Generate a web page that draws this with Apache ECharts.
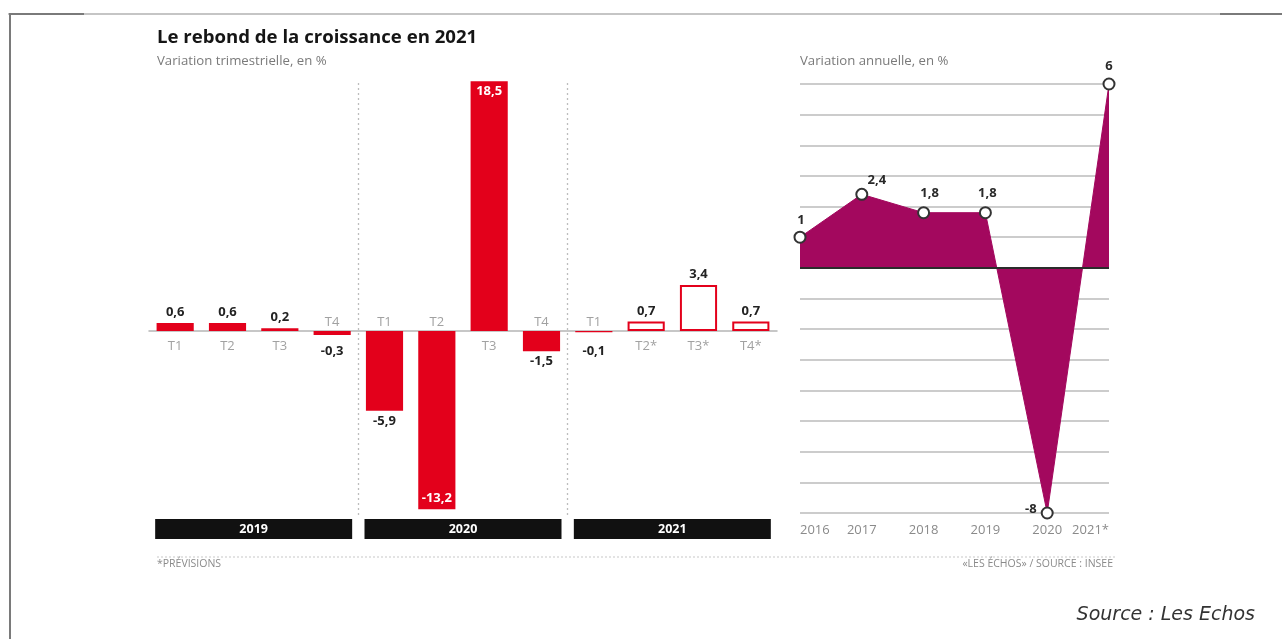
<!DOCTYPE html>
<html lang="fr">
<head>
<meta charset="utf-8">
<title>Le rebond de la croissance en 2021</title>
<script src="https://cdn.jsdelivr.net/npm/echarts@6/dist/echarts.min.js"></script>
<style>
  html, body { margin: 0; padding: 0; background: #fff; }
  #chart { width: 1282px; height: 639px; }
</style>
</head>
<body>
<div id="chart"></div>
<script>
// Quarterly GDP growth (%), 2019 to 2021
const quarterLabels = ['T1', 'T2', 'T3', 'T4', 'T1', 'T2', 'T3', 'T4', 'T1', 'T2*', 'T3*', 'T4*'];
const quarterValues = [0.6, 0.6, 0.2, -0.3, -5.9, -13.2, 18.5, -1.5, -0.1, 0.7, 3.4, 0.7];
const quarterForecast = [false, false, false, false, false, false, false, false, false, true, true, true];
const yearBands = ['2019', '2020', '2021'];
// Positions (in quarters) where one year ends and the next begins
const yearBreaks = [4, 8];

// Annual GDP growth (%)
const annualYears = ['2016', '2017', '2018', '2019', '2020', '2021*'];
const annualValues = [1, 2.4, 1.8, 1.8, -8, 6];

const RED = '#E3001B';
const PLUM = '#A3085E';
const FONT = '"Open Sans", Roboto, sans-serif';

const fmt = v => String(v).replace('.', ',');

// Bars: solid for observed quarters, outlined for forecasts
const barData = quarterValues.map((v, i) => {
  const big = Math.abs(v) > 10;
  let label;
  if (big) {
    label = { position: v > 0 ? 'insideTop' : 'insideBottom', distance: 4, color: '#fff' };
  } else if (v >= 0) {
    label = { position: 'top', distance: 4 };
  } else {
    const px = Math.abs(v) * 13.5;
    label = { position: 'bottom', distance: Math.max(4, 14 - px) };
  }
  return {
    value: v,
    itemStyle: quarterForecast[i]
      ? { color: '#fff', borderColor: RED, borderWidth: 2 }
      : { color: RED },
    label: label
  };
});

// Quarter names sit on the opposite side of the baseline from each bar
const quarterNameData = quarterValues.map((v, i) => ({
  value: [i, 0],
  label: v >= 0 ? { position: 'bottom', distance: 9 } : { position: 'top', distance: 2 }
}));

// Point labels of the annual series
const annualLabelPlacement = [
  { position: 'top', distance: 4, offset: [1, 0] },
  { position: 'top', distance: 6, offset: [15, 5] },
  { position: 'top', distance: 6, offset: [6, 0] },
  { position: 'top', distance: 6, offset: [2, 0] },
  { position: 'left', distance: 4, offset: [0, -4] },
  { position: 'top', distance: 5, offset: [0, 0] }
];
const annualData = annualValues.map((v, i) => ({ value: v, label: annualLabelPlacement[i] }));

const option = {
  animation: false,
  backgroundColor: '#fff',
  textStyle: { fontFamily: FONT },
  title: [
    {
      text: 'Le rebond de la croissance en 2021',
      left: 152, top: 23,
      textStyle: { fontSize: 18.6, fontWeight: 'bold', color: '#151515', fontFamily: FONT }
    },
    {
      text: 'Variation trimestrielle, en %',
      left: 152, top: 50,
      textStyle: { fontSize: 13.2, fontWeight: 'normal', color: '#7a7a7a', fontFamily: FONT }
    },
    {
      text: 'Variation annuelle, en %',
      left: 795, top: 50,
      textStyle: { fontSize: 13.2, fontWeight: 'normal', color: '#7a7a7a', fontFamily: FONT }
    }
  ],
  grid: [
    { left: 149, right: 505, top: 80, bottom: 124 },
    { left: 800, right: 173, top: 84, bottom: 126 }
  ],
  xAxis: [
    {
      gridIndex: 0, type: 'category', data: quarterLabels,
      axisLine: { onZero: true, lineStyle: { color: '#b5b5b5', width: 1.5 } },
      axisTick: { show: false },
      axisLabel: { show: false },
      splitLine: { show: false }
    },
    {
      gridIndex: 0, type: 'category', data: yearBands, position: 'bottom',
      axisLine: { show: false }, axisTick: { show: false },
      axisLabel: {
        margin: 4, color: '#fff', backgroundColor: '#111', width: 197, height: 20,
        lineHeight: 20, align: 'center', fontSize: 12.5, fontWeight: 'bold', fontFamily: FONT
      }
    },
    {
      gridIndex: 1, type: 'category', data: annualYears, boundaryGap: false,
      axisLine: { show: false }, axisTick: { show: false },
      axisLabel: {
        margin: 11, color: '#8a8a8a', fontSize: 13, fontFamily: FONT,
        alignMinLabel: 'left', alignMaxLabel: 'right'
      },
      splitLine: { show: false }
    },
    {
      // continuous quarter scale used to place the year separators
      gridIndex: 0, type: 'value', min: 0, max: quarterLabels.length, show: false
    }
  ],
  yAxis: [
    {
      gridIndex: 0, type: 'value', min: -13.63, max: 18.59,
      axisLine: { show: false }, axisTick: { show: false },
      axisLabel: { show: false }, splitLine: { show: false }
    },
    {
      gridIndex: 1, type: 'value', min: -8, max: 6, interval: 1,
      axisLine: { show: false }, axisTick: { show: false },
      axisLabel: { show: false },
      splitLine: { lineStyle: { color: '#cccccc', width: 2 } }
    }
  ],
  series: [
    {
      type: 'scatter', xAxisIndex: 3, yAxisIndex: 0,
      data: yearBreaks.map(b => [b, 0]), symbolSize: 0, silent: true,
      markLine: {
        silent: true, symbol: 'none',
        label: { show: false },
        lineStyle: { color: '#bdbdbd', type: [2, 3], width: 1.3 },
        data: yearBreaks.map(b => ({ xAxis: b }))
      },
      z: 1
    },
    {
      type: 'bar', xAxisIndex: 0, yAxisIndex: 0,
      data: barData,
      barCategoryGap: '29%',
      label: {
        show: true, formatter: p => fmt(p.value),
        fontSize: 13, fontWeight: 'bold', color: '#222', fontFamily: FONT
      },
      z: 2
    },
    {
      type: 'scatter', xAxisIndex: 0, yAxisIndex: 0,
      data: quarterNameData, symbolSize: 0, silent: true,
      label: {
        show: true, formatter: p => quarterLabels[p.dataIndex],
        fontSize: 13, color: '#8a8a8a', fontFamily: FONT
      },
      z: 5
    },
    {
      type: 'line', xAxisIndex: 2, yAxisIndex: 1,
      data: annualData,
      symbol: 'circle', symbolSize: 11,
      lineStyle: { color: PLUM, width: 1 },
      areaStyle: { color: PLUM, opacity: 1 },
      itemStyle: { color: '#fff', borderColor: '#333', borderWidth: 2 },
      label: {
        show: true, formatter: p => fmt(p.value),
        fontSize: 13, fontWeight: 'bold', color: '#2a2a2a', fontFamily: FONT
      },
      markLine: {
        silent: true, symbol: 'none',
        label: { show: false },
        lineStyle: { color: '#2b2b2b', width: 2, type: 'solid' },
        data: [{ yAxis: 0 }]
      },
      z: 3
    }
  ],
  graphic: [
    // frame
    { type: 'line', shape: { x1: 8, y1: 14, x2: 1282, y2: 14 }, style: { stroke: '#8c8c8c', lineWidth: 1.2 } },
    { type: 'line', shape: { x1: 9, y1: 14, x2: 84, y2: 14 }, style: { stroke: '#7a7a7a', lineWidth: 2 } },
    { type: 'line', shape: { x1: 1220, y1: 14, x2: 1282, y2: 14 }, style: { stroke: '#7a7a7a', lineWidth: 2 } },
    { type: 'line', shape: { x1: 10, y1: 14, x2: 10, y2: 639 }, style: { stroke: '#7a7a7a', lineWidth: 2 } },
    // footer
    { type: 'line', shape: { x1: 157, y1: 557, x2: 1115, y2: 557 }, style: { stroke: '#c8c8c8', lineWidth: 1, lineDash: [2, 2] } },
    {
      type: 'text', left: 157, top: 559,
      style: { text: '*PRÉVISIONS', fill: '#8a8a8a', font: '10.5px ' + FONT }
    },
    {
      type: 'text', right: 1282 - 1113, top: 559,
      style: { text: '«LES ÉCHOS» / SOURCE : INSEE', fill: '#8a8a8a', font: '10.5px ' + FONT }
    },
    {
      type: 'text', right: 1282 - 1255, top: 606,
      style: { text: 'Source : Les Echos', fill: '#333', font: 'italic 19px "DejaVu Sans", sans-serif' }
    }
  ]
};

const chart = echarts.init(document.getElementById('chart'), null, { renderer: 'canvas' });
chart.setOption(option);
</script>
</body>
</html>
